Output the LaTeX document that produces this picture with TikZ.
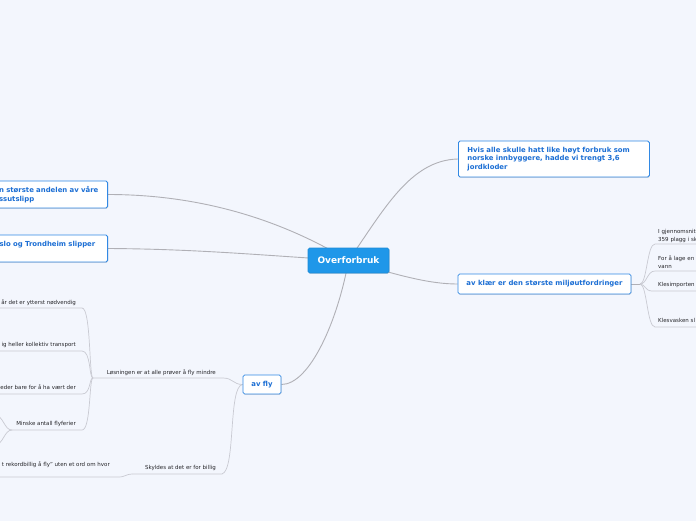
\documentclass[tikz,border=0pt]{standalone}
\usepackage{fontspec}
\setmainfont{DejaVu Sans}
\usetikzlibrary{shadows}
\pgfdeclarelayer{bg}
\pgfdeclarelayer{links}
\pgfsetlayers{bg,links,main}
\definecolor{bgc}{RGB}{243,246,253}
\definecolor{boxline}{RGB}{50,137,228}
\definecolor{boxtext}{RGB}{27,110,212}
\definecolor{rootfill}{RGB}{31,151,233}
\definecolor{mainline}{RGB}{176,176,182}
\definecolor{subline}{RGB}{201,202,210}
\definecolor{leaftext}{RGB}{38,38,42}
\tikzset{
  topic/.style={draw=boxline, line width=0.8pt, fill=white, rounded corners=1.6pt,
    text=boxtext, font=\bfseries\fontsize{6.9}{8.6}\selectfont,
    drop shadow={shadow xshift=0.5pt, shadow yshift=-0.8pt, opacity=0.25}},
  roottopic/.style={draw=rootfill!92!black, line width=0.6pt, fill=rootfill,
    rounded corners=1.6pt, text=white, font=\bfseries\fontsize{9}{11}\selectfont,
    minimum width=81pt, minimum height=25pt,
    drop shadow={shadow xshift=0.5pt, shadow yshift=-0.8pt, opacity=0.25}},
  leaf/.style={inner sep=0pt, text=leaftext, font=\fontsize{5.5}{8}\selectfont},
  mainlink/.style={draw=mainline, line width=0.9pt},
  sublink/.style={draw=subline, line width=0.7pt},
}
\begin{document}
\begin{tikzpicture}[x=1pt,y=-1pt]
\useasboundingbox (0,0) rectangle (696,520);
\begin{pgfonlayer}{bg}
\fill[bgc] (-20,-20) rectangle (716,540);
\end{pgfonlayer}

% main topics
\node[roottopic] (root) at (348.5,260.5) {Overforbruk};
\node[topic, anchor=west, text width=173pt, align=left, inner xsep=9pt, minimum height=36pt] (hvis) at (458,159)
  {Hvis alle skulle hatt like høyt forbruk som\\norske innbyggere, hadde vi trengt 3,6\\jordkloder};
\node[topic, minimum width=173pt, minimum height=20pt] (klaer) at (544.5,284) {av klær er den største miljøutfordringer};
\node[topic, minimum width=38pt, minimum height=19pt] (fly) at (262,384.5) {av fly};
\node[topic, anchor=east, text width=104pt, align=left, inner xsep=4.5pt, minimum height=27pt] (andel) at (108,194.5)
  {n største andelen av våre\\ssutslipp};
\node[topic, anchor=east, text width=99pt, align=left, inner xsep=9pt, minimum height=27pt] (oslo) at (108,248.5)
  {slo og Trondheim slipper\\\mbox{}};

% leaves right
\node[leaf, anchor=base west, text width=60pt, align=left] (gj) at (658,233) {I gjennomsnitt\\359 plagg i sk};
\node[leaf, anchor=base west, text width=60pt, align=left] (lage) at (658,260) {For å lage en\\vann};
\node[leaf, anchor=base west] (imp) at (658,286) {Klesimporten};
\node[leaf, anchor=base west] (vask) at (658,322) {Klesvasken sl};

% leaves left
\node[leaf, anchor=base east] (los) at (216,374) {Løsningen er at alle prøver å fly mindre};
\node[leaf, anchor=base east] (sky) at (216,469.5) {Skyldes at det er for billig};
\node[leaf, anchor=base east] (rek) at (110,466) {t rekordbillig å fly" uten et ord om hvor};
\node[leaf, anchor=base east] (c1) at (76,304) {år det er ytterst nødvendig};
\node[leaf, anchor=base east] (c2) at (76,346.5) {ig heller kollektiv transport};
\node[leaf, anchor=base east] (c3) at (76,389.5) {eder bare for å ha vært der};
\node[leaf, anchor=base east] (c4) at (76,425.5) {Minske antall flyferier};

% connector points
\coordinate (klJ) at (640,284);
\coordinate (losR) at (223,378);
\coordinate (losJ) at (93,378);
\coordinate (skR) at (222,474);
\coordinate (skL) at (132,474);
\coordinate (rkR) at (118,477);
\coordinate (rkL) at (-6,477);
\coordinate (c1R) at (82,308);
\coordinate (c2R) at (82,351);
\coordinate (c3R) at (82,394);
\coordinate (c4R) at (82,430);
\coordinate (mJ) at (12,430);
\coordinate (mUp) at (-6,414);
\coordinate (mDn) at (-6,446);

\begin{pgfonlayer}{links}
\draw[mainlink] (andel.east) .. controls (210,194.5) and (290,225) .. (root.center);
\draw[mainlink] (oslo.east) .. controls (200,249) and (270,256) .. (root.center);
\draw[mainlink] (root.center) .. controls (383.5,210.5) and (410,160) .. (hvis.west);
\draw[mainlink] (root.center) .. controls (400,276) and (430,284) .. (klaer.west);
\draw[mainlink] (root.center) .. controls (338,320) and (310,384.5) .. (fly.east);

\draw[mainlink] (klaer.east) -- (klJ);
\draw[sublink] (klJ) .. controls (647,284) and (647,244) .. (655,244) -- (700,244);
\draw[sublink] (klJ) .. controls (647,284) and (647,271) .. (655,271) -- (700,271);
\draw[sublink] (klJ) .. controls (645,284) and (645,291) .. (652,291) -- (700,291);
\draw[sublink] (klJ) .. controls (647,284) and (647,327) .. (655,327) -- (700,327);

\draw[sublink] (fly.west) .. controls (233,384.5) and (233,378) .. (losR) -- (losJ);
\draw[sublink] (fly.west) .. controls (228,386) and (236,470) .. (skR) -- (skL);
\draw[sublink] (skL) .. controls (126,474) and (126,477) .. (rkR) -- (rkL);

\draw[sublink] (losJ) .. controls (89,378) and (91,308) .. (c1R) -- (-6,308);
\draw[sublink] (losJ) .. controls (89,378) and (91,351) .. (c2R) -- (-6,351);
\draw[sublink] (losJ) .. controls (89,378) and (91,394) .. (c3R) -- (-6,394);
\draw[sublink] (losJ) .. controls (89,378) and (91,430) .. (c4R) -- (mJ);
\draw[sublink] (mJ) .. controls (4,430) and (4,416) .. (mUp);
\draw[sublink] (mJ) .. controls (4,430) and (4,444) .. (mDn);
\end{pgfonlayer}
\end{tikzpicture}
\end{document}
